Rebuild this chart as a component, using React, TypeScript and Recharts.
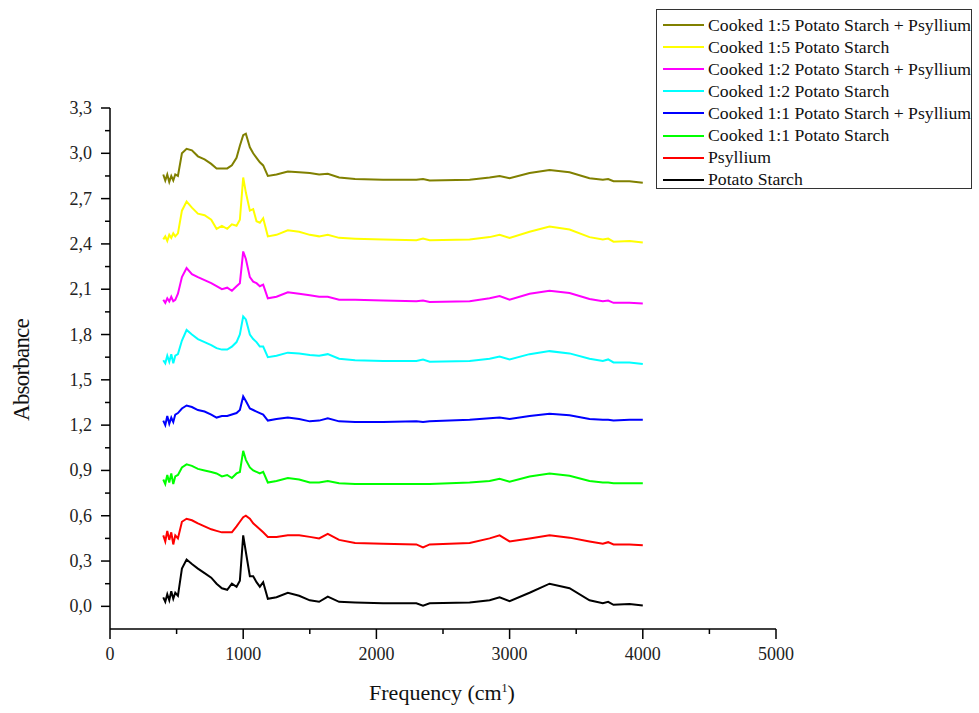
import { LineChart, Line, XAxis, YAxis } from "recharts";

const FONT = '"Liberation Serif", "DejaVu Serif", serif';

// wavenumber grid (cm-1)
const freq = [
  400, 415, 430, 445, 460, 475, 490, 510, 540, 575, 615, 660, 710, 760, 800, 840, 880, 915, 950, 975,
  1000, 1020, 1050, 1075, 1100, 1125, 1150, 1185, 1250, 1335, 1420, 1500, 1570, 1635, 1720, 1840,
  2050, 2300, 2350, 2400, 2700, 2850, 2925, 3000, 3150, 3300, 3450, 3600, 3700, 3740, 3780, 3900, 4000,
];

const potatoStarch = [
  0.06, 0.03, 0.08, 0.04, 0.1, 0.05, 0.09, 0.07, 0.25, 0.31, 0.28, 0.25, 0.22, 0.19, 0.15, 0.12, 0.11, 0.15, 0.13, 0.17,
  0.47, 0.36, 0.2, 0.2, 0.16, 0.13, 0.16, 0.05, 0.06, 0.09, 0.07, 0.04, 0.03, 0.065, 0.03, 0.025,
  0.02, 0.02, 0.005, 0.02, 0.025, 0.04, 0.06, 0.035, 0.09, 0.15, 0.12, 0.04, 0.02, 0.03, 0.01, 0.015, 0.005,
];

const psyllium = [
  0.47, 0.43, 0.5, 0.44, 0.49, 0.41, 0.47, 0.45, 0.56, 0.58, 0.57, 0.55, 0.53, 0.51, 0.5, 0.49, 0.49, 0.49, 0.53, 0.56,
  0.59, 0.6, 0.58, 0.55, 0.53, 0.51, 0.49, 0.46, 0.46, 0.47, 0.47, 0.46, 0.45, 0.48, 0.44, 0.42,
  0.415, 0.41, 0.39, 0.41, 0.42, 0.45, 0.47, 0.43, 0.45, 0.47, 0.455, 0.43, 0.415, 0.425, 0.41, 0.41, 0.405,
];

const cooked11 = [
  0.84, 0.81, 0.87, 0.82, 0.88, 0.81, 0.86, 0.87, 0.92, 0.94, 0.93, 0.91, 0.9, 0.89, 0.88, 0.86, 0.87, 0.85, 0.88, 0.89,
  1.03, 0.97, 0.92, 0.9, 0.89, 0.88, 0.89, 0.82, 0.83, 0.85, 0.84, 0.82, 0.82, 0.83, 0.815, 0.81,
  0.81, 0.81, 0.81, 0.81, 0.82, 0.83, 0.845, 0.825, 0.86, 0.88, 0.865, 0.83, 0.82, 0.82, 0.815, 0.815, 0.815,
];

const cooked11Psyllium = [
  1.23, 1.2, 1.26, 1.21, 1.25, 1.22, 1.27, 1.28, 1.31, 1.33, 1.32, 1.3, 1.29, 1.27, 1.25, 1.26, 1.26, 1.27, 1.28, 1.3,
  1.39, 1.36, 1.31, 1.3, 1.29, 1.28, 1.27, 1.23, 1.24, 1.25, 1.24, 1.225, 1.23, 1.245, 1.225, 1.22,
  1.22, 1.225, 1.22, 1.225, 1.235, 1.245, 1.25, 1.24, 1.26, 1.275, 1.265, 1.24, 1.235, 1.235, 1.23, 1.235, 1.235,
];

const cooked12 = [
  1.63, 1.61, 1.66, 1.62, 1.67, 1.61, 1.66, 1.67, 1.76, 1.83, 1.8, 1.77, 1.75, 1.73, 1.71, 1.7, 1.7, 1.72, 1.75, 1.8,
  1.92, 1.9, 1.8, 1.77, 1.75, 1.72, 1.72, 1.65, 1.66, 1.68, 1.675, 1.665, 1.66, 1.67, 1.64, 1.63,
  1.625, 1.625, 1.635, 1.62, 1.625, 1.64, 1.655, 1.635, 1.67, 1.69, 1.675, 1.64, 1.625, 1.635, 1.615, 1.615, 1.605,
];

const cooked12Psyllium = [
  2.03, 2.01, 2.04, 2.02, 2.05, 2.02, 2.03, 2.07, 2.18, 2.24, 2.2, 2.18, 2.16, 2.14, 2.12, 2.1, 2.11, 2.09, 2.12, 2.14,
  2.35, 2.3, 2.18, 2.15, 2.14, 2.12, 2.13, 2.04, 2.05, 2.08, 2.07, 2.06, 2.05, 2.05, 2.03, 2.03,
  2.025, 2.02, 2.025, 2.015, 2.02, 2.04, 2.055, 2.03, 2.07, 2.09, 2.075, 2.035, 2.02, 2.025, 2.01, 2.01, 2.005,
];

const cooked15 = [
  2.43, 2.45, 2.42, 2.46, 2.44, 2.47, 2.45, 2.47, 2.62, 2.68, 2.64, 2.6, 2.59, 2.56, 2.5, 2.52, 2.5, 2.53, 2.52, 2.56,
  2.84, 2.74, 2.62, 2.63, 2.55, 2.54, 2.57, 2.45, 2.46, 2.49, 2.48, 2.46, 2.45, 2.46, 2.44, 2.435,
  2.43, 2.425, 2.435, 2.425, 2.43, 2.445, 2.46, 2.44, 2.48, 2.515, 2.495, 2.445, 2.43, 2.435, 2.415, 2.42, 2.41,
];

const cooked15Psyllium = [
  2.86, 2.82, 2.86, 2.81, 2.85, 2.82, 2.86, 2.85, 3.0, 3.03, 3.02, 2.98, 2.96, 2.93, 2.9, 2.9, 2.9, 2.92, 2.97, 3.05,
  3.12, 3.13, 3.04, 3.0, 2.97, 2.94, 2.92, 2.85, 2.86, 2.88, 2.875, 2.87, 2.86, 2.865, 2.84, 2.83,
  2.825, 2.825, 2.83, 2.82, 2.825, 2.84, 2.85, 2.835, 2.87, 2.89, 2.875, 2.835, 2.825, 2.83, 2.815, 2.815, 2.805,
];

const xTicks = [0, 500, 1000, 1500, 2000, 2500, 3000, 3500, 4000, 4500, 5000];
const yTicks = [
  0, 0.15, 0.3, 0.45, 0.6, 0.75, 0.9, 1.05, 1.2, 1.35, 1.5, 1.65, 1.8, 1.95, 2.1, 2.25, 2.4, 2.55, 2.7, 2.85,
  3.0, 3.15, 3.3,
];

// legend order (top to bottom)
const SERIES = [
  { key: "c15p", label: "Cooked 1:5 Potato Starch + Psyllium", color: "#808000", values: cooked15Psyllium },
  { key: "c15", label: "Cooked 1:5 Potato Starch", color: "#ffff00", values: cooked15 },
  { key: "c12p", label: "Cooked 1:2 Potato Starch + Psyllium", color: "#ff00ff", values: cooked12Psyllium },
  { key: "c12", label: "Cooked 1:2 Potato Starch", color: "#00ffff", values: cooked12 },
  { key: "c11p", label: "Cooked 1:1 Potato Starch + Psyllium", color: "#0000ff", values: cooked11Psyllium },
  { key: "c11", label: "Cooked 1:1 Potato Starch", color: "#00ff00", values: cooked11 },
  { key: "psy", label: "Psyllium", color: "#ff0000", values: psyllium },
  { key: "ps", label: "Potato Starch", color: "#000000", values: potatoStarch },
];

const data = freq.map((f, i) => {
  const row: Record<string, number> = { f };
  SERIES.forEach((s) => {
    row[s.key] = s.values[i];
  });
  return row;
});

function XTick(props: any) {
  const { x, y, payload } = props;
  const v = payload.value as number;
  const major = v % 1000 === 0;
  return (
    <g>
      <line x1={x} x2={x} y1={y} y2={y + (major ? 10 : 5)} stroke="#000" strokeWidth={1.5} />
      {major && (
        <text x={x} y={y + 25} textAnchor="middle" dominantBaseline="central" fontSize={18} fontFamily={FONT} fill="#222">
          {v}
        </text>
      )}
    </g>
  );
}

function YTick(props: any) {
  const { x, y, payload } = props;
  const v = payload.value as number;
  const major = Math.round(v * 100) % 30 === 0;
  return (
    <g>
      <line x1={x} x2={x - (major ? 9 : 5)} y1={y} y2={y} stroke="#000" strokeWidth={1.5} />
      {major && (
        <text x={x - 18} y={y} textAnchor="end" dominantBaseline="central" fontSize={18} fontFamily={FONT} fill="#222">
          {v.toFixed(1).replace(".", ",")}
        </text>
      )}
    </g>
  );
}

export default function App() {
  return (
    <div style={{ position: "absolute", left: 0, top: 0, width: 979, height: 713, background: "#fff", fontFamily: FONT }}>
      <LineChart width={979} height={713} data={data} margin={{ top: 108, right: 203, left: 50, bottom: 44 }}>
        <XAxis
          dataKey="f"
          type="number"
          domain={[0, 5000]}
          ticks={xTicks}
          interval={0}
          height={40}
          tickSize={0}
          tickMargin={0}
          tickLine={false}
          axisLine={{ stroke: "#000", strokeWidth: 1.5 }}
          tick={<XTick />}
        />
        <YAxis
          type="number"
          domain={[-0.15, 3.3]}
          ticks={yTicks}
          interval={0}
          width={60}
          tickSize={0}
          tickMargin={0}
          tickLine={false}
          axisLine={{ stroke: "#000", strokeWidth: 1.5 }}
          tick={<YTick />}
          allowDataOverflow
        />
        {SERIES.slice()
          .reverse()
          .map((s) => (
            <Line
              key={s.key}
              dataKey={s.key}
              name={s.label}
              type="linear"
              stroke={s.color}
              strokeWidth={2}
              dot={false}
              isAnimationActive={false}
            />
          ))}
      </LineChart>

      <div
        style={{
          position: "absolute",
          left: 656,
          top: 9,
          width: 316,
          height: 180,
          border: "1px solid #333",
          boxSizing: "border-box",
          background: "#fff",
        }}
      >
        {SERIES.map((s, i) => (
          <div
            key={s.key}
            style={{ position: "absolute", left: 0, top: 4 + i * 22.1, height: 22, display: "flex", alignItems: "center", whiteSpace: "nowrap" }}
          >
            <div style={{ marginLeft: 6, width: 41, height: 2, background: s.color }} />
            <span style={{ marginLeft: 4, fontSize: 17.7, color: "#111", fontFamily: FONT }}>{s.label}</span>
          </div>
        ))}
      </div>

      <div
        style={{
          position: "absolute",
          left: 22,
          top: 370,
          transform: "translate(-50%, -50%) rotate(-90deg)",
          fontSize: 23,
          whiteSpace: "nowrap",
          color: "#111",
          letterSpacing: -0.8,
        }}
      >
        Absorbance
      </div>
      <div
        style={{
          position: "absolute",
          left: 442,
          top: 693,
          transform: "translate(-50%, -50%)",
          fontSize: 22,
          whiteSpace: "nowrap",
          color: "#111",
        }}
      >
        Frequency (cm<sup style={{ fontSize: 12 }}>1</sup>)
      </div>
    </div>
  );
}
